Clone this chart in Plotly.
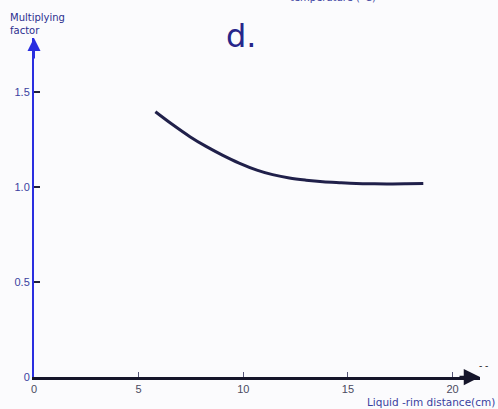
import plotly.graph_objects as go

# Data
distance_cm = [5.8, 6.6, 7.45, 8.2, 9.0, 9.8, 10.65, 11.4, 12.2, 13.0, 13.8, 14.6, 15.4, 16.2, 17.0, 17.8, 18.6]
multiplying_factor = [1.396, 1.33, 1.265, 1.215, 1.168, 1.126, 1.089, 1.065, 1.047, 1.036, 1.028, 1.023, 1.019, 1.017, 1.016, 1.017, 1.019]

x_ticks = [0, 5, 10, 15, 20]
x_tick_labels = ["0", "5", "10", "15", "20"]
y_ticks = [0, 0.5, 1.0, 1.5]
y_tick_labels = ["0", "0.5", "1.0", "1.5"]

W, H = 498, 409
L, R, T, B = 34, 18, 38, 32
pw, ph = W - L - R, H - T - B
x_max = pw / 20.93
y_max = ph / 190.0

def px(xp):
    return (xp - L) / pw

def py(yp):
    return (H - B - yp) / ph

fig = go.Figure()
fig.add_trace(go.Scatter(
    x=distance_cm, y=multiplying_factor, mode="lines",
    line=dict(color="#20204a", width=3, shape="spline"),
    hoverinfo="skip", showlegend=False))

fig.update_layout(
    width=W, height=H,
    margin=dict(l=L, r=R, t=T, b=B),
    paper_bgcolor="#fbfbfd", plot_bgcolor="rgba(0,0,0,0)",
    font=dict(family="Liberation Sans", size=10, color="#333"),
    xaxis=dict(range=[0, x_max], showgrid=False, zeroline=False,
               showline=True, linecolor="#15152a", linewidth=2.5,
               ticks="inside", ticklen=5, tickcolor="#555577", tickwidth=1,
               tickvals=x_ticks, ticktext=x_tick_labels,
               tickfont=dict(size=11, color="#4a4a60", family="Liberation Sans")),
    yaxis=dict(range=[0, y_max], showgrid=False, zeroline=False,
               showline=True, linecolor="#2a2ee0", linewidth=2,
               ticks="inside", ticklen=6, tickcolor="#20203a", tickwidth=1.5,
               tickvals=y_ticks, ticktext=y_tick_labels,
               tickfont=dict(size=11, color="#3a3fa0", family="Liberation Sans")),
)

# axis arrows
fig.add_annotation(xref="paper", yref="paper", x=0, y=1, ax=0, ay=22,
                   showarrow=True, arrowhead=2, arrowsize=1.3, arrowwidth=2,
                   arrowcolor="#2a2ee0", text="")
fig.add_annotation(xref="paper", yref="paper", x=1, y=0, ax=-22, ay=0,
                   showarrow=True, arrowhead=2, arrowsize=1.3, arrowwidth=2.5,
                   arrowcolor="#15152a", text="")
fig.add_annotation(xref="paper", yref="paper", x=px(490), y=py(373),
                   text="- -", showarrow=False, font=dict(size=10, color="#333"))

# texts
fig.add_annotation(xref="paper", yref="paper", x=px(8), y=py(10), xanchor="left", yanchor="top",
                   text="Multiplying<br>factor", align="left", showarrow=False,
                   font=dict(size=10, color="#2b2f8f", family="DejaVu Sans"))
fig.add_annotation(xref="paper", yref="paper", x=px(241), y=py(36),
                   xanchor="center", yanchor="middle",
                   text="d.", showarrow=False,
                   font=dict(size=32, color="#26268a", family="DejaVu Sans"))
fig.add_annotation(xref="paper", yref="paper", x=px(378), y=py(5), yanchor="bottom",
                   text="temperature (°C)", showarrow=False,
                   font=dict(size=10, color="#3a3fa0", family="DejaVu Sans"))
fig.add_annotation(xref="paper", yref="paper", x=px(497), y=py(402),
                   xanchor="right", yanchor="middle",
                   text="Liquid -rim distance(cm)", showarrow=False,
                   font=dict(size=10.5, color="#3a3fa0", family="DejaVu Sans"))

fig.write_html("out.html", config={"displayModeBar": False},
               post_script="document.body.style.margin='0';document.body.style.padding='0';")
